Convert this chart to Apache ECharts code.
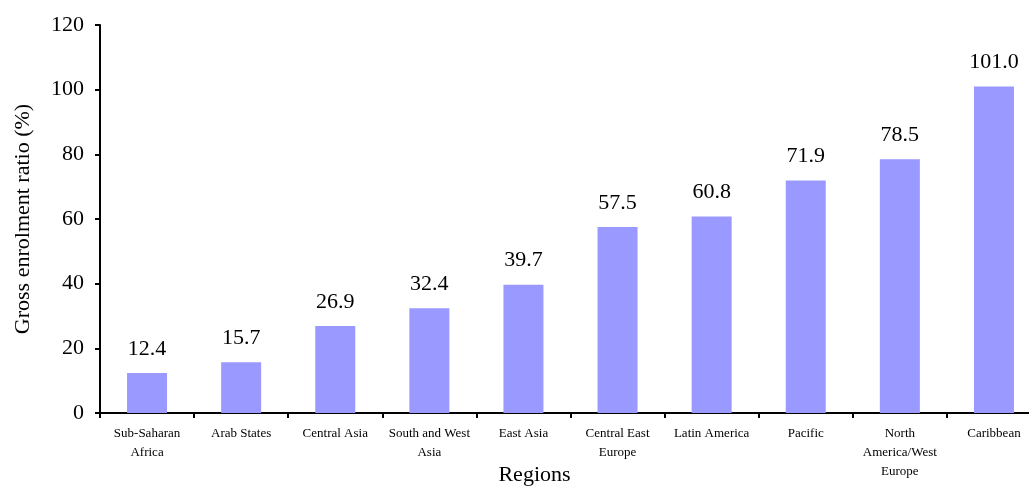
<!DOCTYPE html>
<html>
<head>
<meta charset="utf-8">
<script src="https://cdn.jsdelivr.net/npm/echarts@6/dist/echarts.min.js"></script>
<style>
html,body{margin:0;padding:0;background:#fff;}
#chart{width:1029px;height:487px;}
</style>
</head>
<body>
<div id="chart"></div>
<script>
const categories = ["Sub-Saharan\nAfrica", "Arab States", "Central Asia", "South and West\nAsia", "East Asia", "Central East\nEurope", "Latin America", "Pacific", "North\nAmerica/West\nEurope", "Caribbean"];
const values = [12.4, 15.7, 26.9, 32.4, 39.7, 57.5, 60.8, 71.9, 78.5, 101.0];
const yAxisTitle = "Gross enrolment ratio (%)";
const xAxisTitle = "Regions";

const FONT = "'Liberation Serif', 'Times New Roman', serif";
const chart = echarts.init(document.getElementById('chart'), null, {renderer: 'canvas'});
chart.setOption({
  backgroundColor: '#ffffff',
  animation: false,
  grid: {left: 100, top: 25, right: -12, bottom: 74, containLabel: false, outerBoundsMode: 'none'},
  xAxis: {
    type: 'category',
    data: categories,
    name: xAxisTitle,
    nameLocation: 'middle',
    nameGap: 51,
    nameMoveOverlap: false,
    nameTextStyle: {fontFamily: FONT, fontSize: 22, color: '#000', padding: [0, 72, 0, 0]},
    axisLine: {lineStyle: {color: '#000', width: 2}},
    axisTick: {show: true, length: 5, alignWithLabel: false, lineStyle: {color: '#000', width: 2}},
    axisLabel: {interval: 0, fontFamily: FONT, fontSize: 13, color: '#000', lineHeight: 19, margin: 11}
  },
  yAxis: {
    type: 'value',
    min: 0, max: 120, interval: 20,
    name: yAxisTitle,
    nameLocation: 'middle',
    nameGap: 66,
    nameMoveOverlap: false,
    nameTextStyle: {fontFamily: FONT, fontSize: 22, color: '#000'},
    axisLine: {show: true, lineStyle: {color: '#000', width: 2}},
    axisTick: {show: true, length: 5, lineStyle: {color: '#000', width: 2}},
    axisLabel: {fontFamily: FONT, fontSize: 22, color: '#000', margin: 16},
    splitLine: {show: false}
  },
  series: [{
    type: 'bar',
    data: values,
    barWidth: 40,
    itemStyle: {color: '#9999FF'},
    label: {
      show: true, position: 'top', distance: 13,
      fontFamily: FONT, fontSize: 22, color: '#000',
      formatter: p => p.value.toFixed(1)
    }
  }]
});
</script>
</body>
</html>
